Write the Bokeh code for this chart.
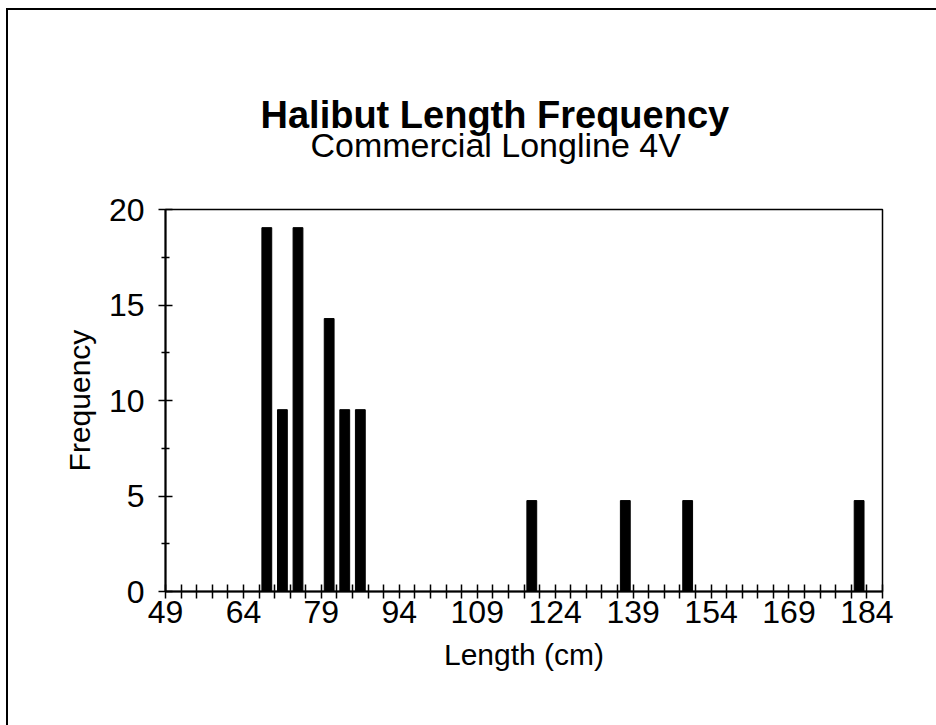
from bokeh.plotting import figure
from bokeh.models import FixedTicker, Title, Range1d, InlineStyleSheet
from bokeh.embed import file_html
from bokeh.resources import INLINE

# ---- data ----
length_bins = [67, 70, 73, 79, 82, 85, 118, 136, 148, 181]      # bin lower bound (cm)
frequency = [19.05, 9.52, 19.05, 14.29, 9.52, 9.52, 4.76, 4.76, 4.76, 4.76]
bin_width = 3
x_tick_values = list(range(49, 188, 3))
x_tick_labels = ["49", "64", "79", "94", "109", "124", "139", "154", "169", "184"]
y_tick_values = [0, 5, 10, 15, 20]
y_minor_values = [2.5, 7.5, 12.5, 17.5]

FONT = "Liberation Sans"

p = figure(width=930, height=717, output_backend="svg", toolbar_location=None,
           title=None,
           x_range=Range1d(49, 187), y_range=Range1d(0, 20),
           min_border_left=159, min_border_right=54,
           min_border_top=201, min_border_bottom=134)

# outer chart-area border: only its left and top edges show in the reference
p.margin = (8, 0, 0, 6)
p.border_fill_color = None
p.background_fill_color = None
p.stylesheets = [InlineStyleSheet(css="""
:host {
  background-image: linear-gradient(#000, #000), linear-gradient(#000, #000);
  background-size: 100% 2px, 2px 100%;
  background-position: 0 0, 0 0;
  background-repeat: no-repeat;
}
""")]

centers = [b + bin_width / 2 for b in length_bins]
p.vbar(x=centers, top=frequency, width=bin_width * 0.63, color="black")

p.xgrid.visible = False
p.ygrid.visible = False
p.outline_line_color = "black"
p.outline_line_width = 1.5

# x axis
p.xaxis.ticker = FixedTicker(ticks=x_tick_values, minor_ticks=[])
p.xaxis.major_label_overrides = {v: (str(v) if str(v) in x_tick_labels else "") for v in x_tick_values}
p.xaxis.major_tick_in = 7
p.xaxis.major_tick_out = 7
p.xaxis.minor_tick_in = 0
p.xaxis.minor_tick_out = 0
p.xaxis.major_label_standoff = 2
p.xaxis.axis_label = "Length (cm)"
p.xaxis.axis_label_standoff = 12

# y axis
p.yaxis.ticker = FixedTicker(ticks=y_tick_values, minor_ticks=y_minor_values)
p.yaxis.major_tick_in = 7
p.yaxis.major_tick_out = 7
p.yaxis.minor_tick_in = 4
p.yaxis.minor_tick_out = 4
p.yaxis.major_label_standoff = 14
p.yaxis.axis_label = "Frequency"
p.yaxis.axis_label_standoff = 10

for ax in (p.xaxis[0], p.yaxis[0]):
    ax.axis_line_color = "black"
    ax.axis_line_width = 2
    ax.major_tick_line_color = "black"
    ax.major_tick_line_width = 1.5
    ax.minor_tick_line_color = "black"
    ax.minor_tick_line_width = 1.5
    ax.major_label_text_font = FONT
    ax.major_label_text_font_size = "32px"
    ax.major_label_text_color = "black"
    ax.axis_label_text_font = FONT
    ax.axis_label_text_font_size = "30px"
    ax.axis_label_text_font_style = "normal"
    ax.axis_label_text_color = "black"

spacer = Title(text=" ", text_font_size="1px", standoff=43)
subtitle = Title(text="Commercial Longline 4V", align="left", offset=145,
                 text_font=FONT, text_font_size="34px", text_font_style="normal",
                 text_color="black", standoff=0)
title = Title(text="Halibut Length Frequency", align="left", offset=95,
              text_font=FONT, text_font_size="38px", text_font_style="bold",
              text_color="black", standoff=-24)
p.add_layout(spacer, "above")
p.add_layout(subtitle, "above")
p.add_layout(title, "above")

open("out.html", "w").write(file_html(p, INLINE))
